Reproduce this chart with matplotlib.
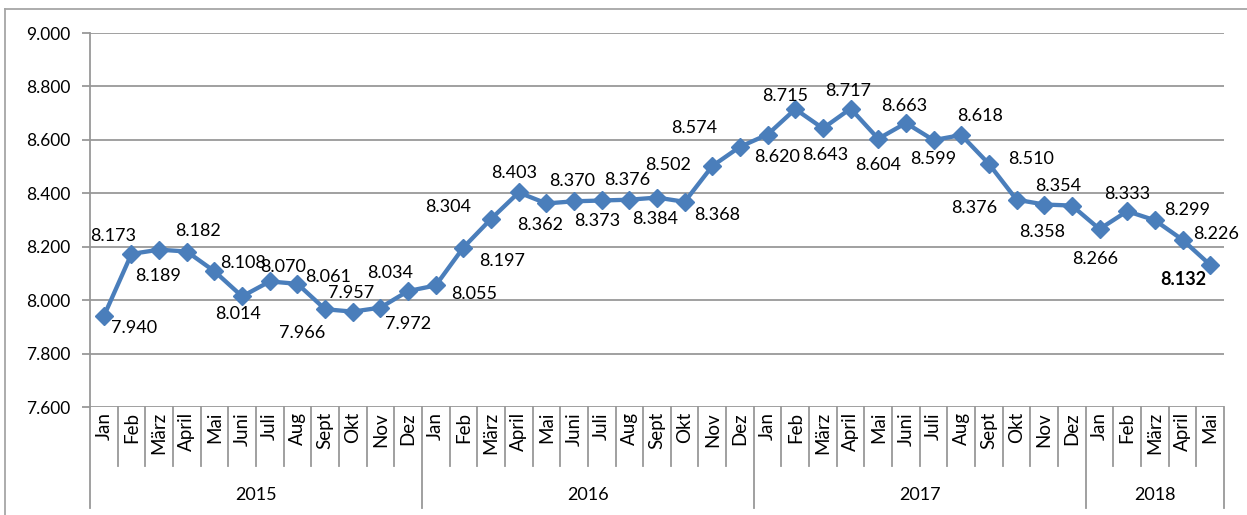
import matplotlib
matplotlib.use('Agg')
import matplotlib.pyplot as plt
from matplotlib.lines import Line2D
import matplotlib.transforms as mtransforms

plt.rcParams['font.family'] = ['Lato', 'DejaVu Sans']

years = ['2015', '2016', '2017', '2018']
months_per_year = [12, 12, 12, 5]
month_names = ['Jan', 'Feb', 'März', 'April', 'Mai', 'Juni', 'Juli', 'Aug', 'Sept', 'Okt', 'Nov', 'Dez']

values = [7940, 8173, 8189, 8182, 8108, 8014, 8070, 8061, 7966, 7957, 7972, 8034,
          8055, 8197, 8304, 8403, 8362, 8370, 8373, 8376, 8384, 8368, 8502, 8574,
          8620, 8715, 8643, 8717, 8604, 8663, 8599, 8618, 8510, 8376, 8358, 8354,
          8266, 8333, 8299, 8226, 8132]

# label placement in pixels (dx, dy) relative to each point
label_offsets = [(30, -12), (-18, 18), (-1, -26), (11, 21), (29, 8), (-4, -18),
                 (13, 14), (31, 7), (-23, -24), (-2, 19), (28, -16), (-18, 18),
                 (38, -9), (39, -13), (-43, 12), (-5, 19), (-6, -22), (-2, 20),
                 (-4, -21), (-2, 20), (-2, -21), (32, -13), (-44, 1), (-46, 19),
                 (9, -22), (-10, 13), (2, -27), (-2, 18), (0, -26), (-2, 17),
                 (0, -19), (19, 19), (42, 5), (-42, -8), (-2, -27), (-14, 20),
                 (-4, -30), (0, 17), (32, 10), (34, 6), (-27, -15)]

labels = []
for n in months_per_year:
    labels += month_names[:n]
x = list(range(len(values)))

W, H = 1247, 515
fig = plt.figure(figsize=(W / 100, H / 100), dpi=100)
ax = fig.add_axes([90 / W, (H - 407) / H, (1224 - 90) / W, (407 - 33) / H])

line_col = '#4A7EBB'
grid_col = '#989898'
ax.plot(x, values, color=line_col, lw=3.1, marker='D', markersize=9,
        markerfacecolor=line_col, markeredgecolor=line_col, zorder=3, clip_on=False)

ax.set_xlim(-0.5, len(values) - 0.5)
ax.set_ylim(7600, 9000)
ax.set_yticks(range(7600, 9001, 200))
ax.set_yticklabels([f"{v:,.0f}".replace(',', '.') for v in range(7600, 9001, 200)], fontsize=12.5)
ax.yaxis.grid(True, color=grid_col, lw=1.3)
ax.set_axisbelow(True)
for s in ['top', 'right', 'bottom']:
    ax.spines[s].set_visible(False)
ax.spines['left'].set_color(grid_col)
ax.spines['left'].set_linewidth(1.3)
ax.tick_params(axis='y', length=6, color=grid_col, width=1.3, pad=8)
ax.tick_params(axis='x', bottom=False, labelbottom=False)

# data labels
for i, v in enumerate(values):
    dx, dy = label_offsets[i]
    bold = i == len(values) - 1
    ax.annotate(f"{v:,.0f}".replace(',', '.'), (i, v), xytext=(dx, dy),
                textcoords='offset pixels', ha='center', va='center',
                fontsize=13, fontweight='bold' if bold else 'normal', zorder=4)

# category axis with month and year levels
trans = mtransforms.blended_transform_factory(ax.transData, ax.transAxes)
ax_h = 407 - 33
y_month = -(466 - 407) / ax_h
y_year = -(508 - 407) / ax_h
for i, lab in enumerate(labels):
    ax.text(i, -5 / ax_h, lab, transform=trans, rotation=90, ha='center', va='top', fontsize=13.5)

bounds = [-0.5]
for n in months_per_year:
    bounds.append(bounds[-1] + n)
for i in range(len(values) + 1):
    xb = i - 0.5
    y_end = y_year if xb in bounds else y_month
    ax.add_line(Line2D([xb, xb], [0, y_end], transform=trans, color=grid_col, lw=1.3, clip_on=False))

for k, yr in enumerate(years):
    mid = (bounds[k] + bounds[k + 1]) / 2
    ax.text(mid, -(495 - 407) / ax_h, yr, transform=trans, ha='center', va='center', fontsize=13)

# outer chart border
fig.add_artist(Line2D([5 / W, 5 / W], [0, 1 - 9 / H], color='#a6a6a6', lw=1.3))
fig.add_artist(Line2D([5 / W, 1], [1 - 9 / H, 1 - 9 / H], color='#a6a6a6', lw=1.3))

plt.savefig('out.png', dpi=100)
plt.close()
